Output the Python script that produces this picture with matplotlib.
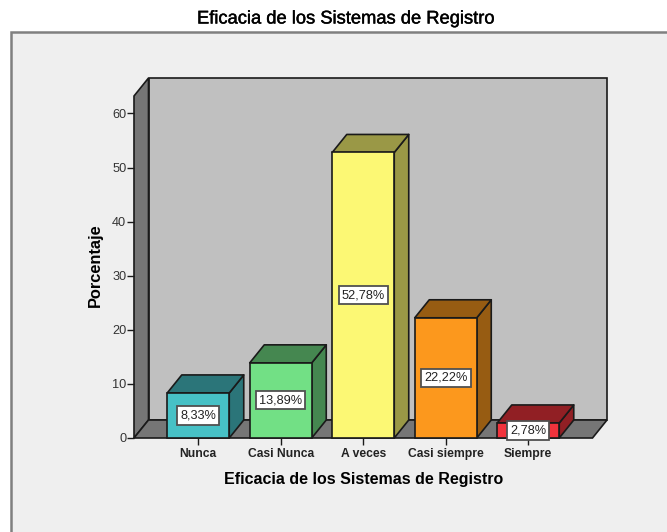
import matplotlib
matplotlib.use("Agg")
import matplotlib.pyplot as plt
import matplotlib.patheffects as pe
from matplotlib.patches import Polygon, Rectangle

categories = ["Nunca", "Casi Nunca", "A veces", "Casi siempre", "Siempre"]
values = [8.33, 13.89, 52.78, 22.22, 2.78]
labels = ["8,33%", "13,89%", "52,78%", "22,22%", "2,78%"]
front_colors = ["#47c1c6", "#72e085", "#fcf874", "#fc981d", "#f1333c"]
top_colors = ["#2b7579", "#458750", "#9a9846", "#975c12", "#911f24"]
y_ticks = [0, 10, 20, 30, 40, 50, 60]

W, H = 667, 532
plt.rcParams["font.family"] = ["Liberation Sans", "DejaVu Sans"]

fig = plt.figure(figsize=(W / 100, H / 100), dpi=100, facecolor="white")

# panel behind the chart, runs off the right and bottom of the picture
panel = fig.add_axes([0, 0, 1, 1], zorder=0)
panel.set_xlim(0, W)
panel.set_ylim(H, 0)
panel.axis("off")
panel.add_patch(Rectangle((11, 32), W, H, fc="#efefef", ec="#808080", lw=1.8))
title = panel.text(346, 19, "Eficacia de los Sistemas de Registro", ha="center", va="center",
                   fontsize=13.2, color="black")
title.set_path_effects([pe.withStroke(linewidth=0.3, foreground="black")])

# axes = front plane of the 3D box
left, right, bottom, top = 134, 592.5, 438, 96
ax = fig.add_axes([left / W, 1 - bottom / H, (right - left) / W, (bottom - top) / H], zorder=1)
ax.patch.set_alpha(0)
step = 82.5
xmin = (left - 198.25) / step
xmax = (right - 198.25) / step
ymax = (bottom - top) / 5.41
ax.set_xlim(xmin, xmax)
ax.set_ylim(0, ymax)
dx = 14.5 / step
dy = 18 / 5.41
edge = "#1a1a1a"

# back wall, side wall, floor
ax.add_patch(Polygon([(xmin + dx, dy), (xmax + dx, dy), (xmax + dx, ymax + dy), (xmin + dx, ymax + dy)],
                     fc="#c0c0c0", ec=edge, lw=1.2, clip_on=False, zorder=1))
ax.add_patch(Polygon([(xmin, 0), (xmin + dx, dy), (xmin + dx, ymax + dy), (xmin, ymax)],
                     fc="#767676", ec=edge, lw=1.2, clip_on=False, zorder=1))
ax.add_patch(Polygon([(xmin, 0), (xmax, 0), (xmax + dx, dy), (xmin + dx, dy)],
                     fc="#767676", ec=edge, lw=1.2, clip_on=False, zorder=1))

bar_w = 62 / step
for i, (v, lab, fc, tc) in enumerate(zip(values, labels, front_colors, top_colors)):
    x0 = i - bar_w / 2
    x1 = i + bar_w / 2
    ax.add_patch(Polygon([(x1, 0), (x1 + dx, dy), (x1 + dx, v + dy), (x1, v)],
                         fc=tc, ec=edge, lw=1.2, clip_on=False, zorder=2, joinstyle="round"))
    ax.add_patch(Polygon([(x0, v), (x1, v), (x1 + dx, v + dy), (x0 + dx, v + dy)],
                         fc=tc, ec=edge, lw=1.2, clip_on=False, zorder=2, joinstyle="round"))
    ax.add_patch(Rectangle((x0, 0), bar_w, v, fc=fc, ec=edge, lw=1.2, clip_on=False, zorder=3))
    ax.text(i, v / 2, lab, ha="center", va="center", fontsize=9.2, color="#222222", zorder=5,
            bbox=dict(boxstyle="square,pad=0.24", fc="white", ec="#505050", lw=1.3), clip_on=False)

for s in ax.spines.values():
    s.set_visible(False)
ax.set_xticks(range(len(categories)))
ax.set_xticklabels(categories, fontsize=8.7, fontweight="bold", color="#222222")
ax.set_yticks(y_ticks)
ax.set_yticklabels([str(t) for t in y_ticks], fontsize=9.2, color="#333333")
ax.tick_params(axis="x", length=5, width=1, color=edge, pad=2)
ax.tick_params(axis="y", length=5, width=1, color=edge, pad=0.5)
ax.set_xlabel("Eficacia de los Sistemas de Registro", fontsize=11.5, fontweight="bold", labelpad=9)
ax.set_ylabel("Porcentaje", fontsize=11.8, fontweight="bold")
ax.yaxis.set_label_coords((103 - left) / (right - left), (bottom - 265) / (bottom - top))

fig.savefig("out.png", dpi=100)
